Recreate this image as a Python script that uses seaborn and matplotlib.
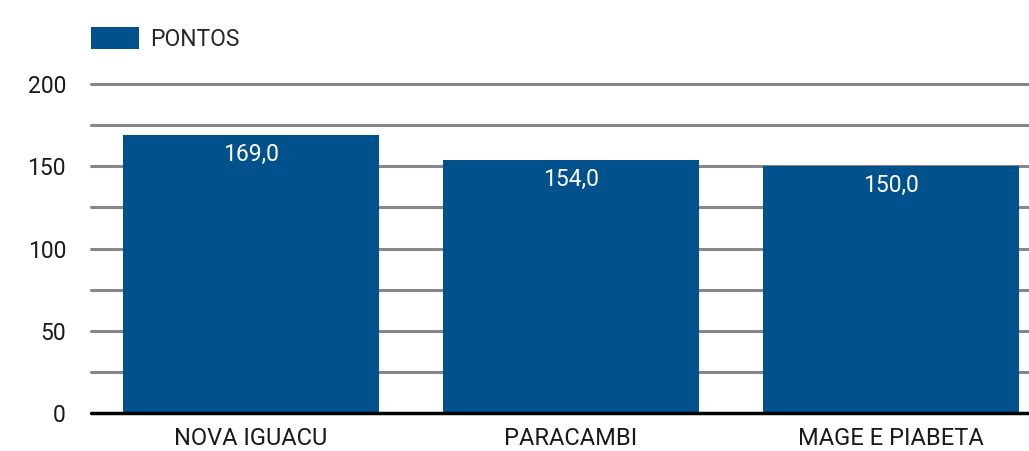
import matplotlib
matplotlib.use('Agg')
import matplotlib.pyplot as plt
import seaborn as sns
import pandas as pd
from matplotlib.patches import Patch

# Chart data
categories = ['NOVA IGUACU', 'PARACAMBI', 'MAGE E PIABETA']
pontos = [169.0, 154.0, 150.0]
y_ticks = [0, 50, 100, 150, 200]

bar_color = '#00518C'

sns.set_style('white')
plt.rcParams['font.family'] = ['Roboto', 'DejaVu Sans']

df = pd.DataFrame({'municipio': categories, 'pontos': pontos})

fig = plt.figure(figsize=(10.29, 4.51), dpi=100)
ax = fig.add_axes([91 / 1029, 38 / 451, 1 - 91 / 1029, 329 / 451])

sns.barplot(data=df, x='municipio', y='pontos', color=bar_color,
            saturation=1, width=0.8, linewidth=0, ax=ax, zorder=3)

ax.set_ylim(0, 200)
ax.set_xlim(-0.5, (1029 - 91) / 320 - 0.5)

# gridlines every 25
for v in range(25, 201, 25):
    ax.axhline(v, color='#878787', linewidth=2.2, zorder=1, clip_on=False)
ax.axhline(0, color='black', linewidth=2.5, zorder=4, clip_on=False)

ax.set_yticks(y_ticks)
ax.set_yticklabels([str(t) for t in y_ticks], fontsize=16.5, color='#1a1a1a')
ax.tick_params(axis='y', length=0, pad=18)
ax.tick_params(axis='x', length=0, pad=10, labelsize=17, labelcolor='#1a1a1a')
ax.set_xlabel('')
ax.set_ylabel('')
sns.despine(ax=ax, left=True, bottom=True, top=True, right=True)

# value labels inside bars
for i, v in enumerate(pontos):
    ax.annotate(f'{v:.1f}'.replace('.', ','), xy=(i, v), xytext=(0, -14),
                textcoords='offset points', ha='center', va='center',
                color='white', fontsize=16.5, zorder=5)

# legend at top left
handle = Patch(facecolor=bar_color, edgecolor='none', label='PONTOS')
fig.legend(handles=[handle], loc='upper left', bbox_to_anchor=(91 / 1029, 1 - 27 / 451),
           frameon=False, fontsize=16.5, handlelength=2.1, handleheight=1.1,
           handletextpad=0.5, borderaxespad=0, borderpad=0)

fig.savefig('out.png', dpi=100)
